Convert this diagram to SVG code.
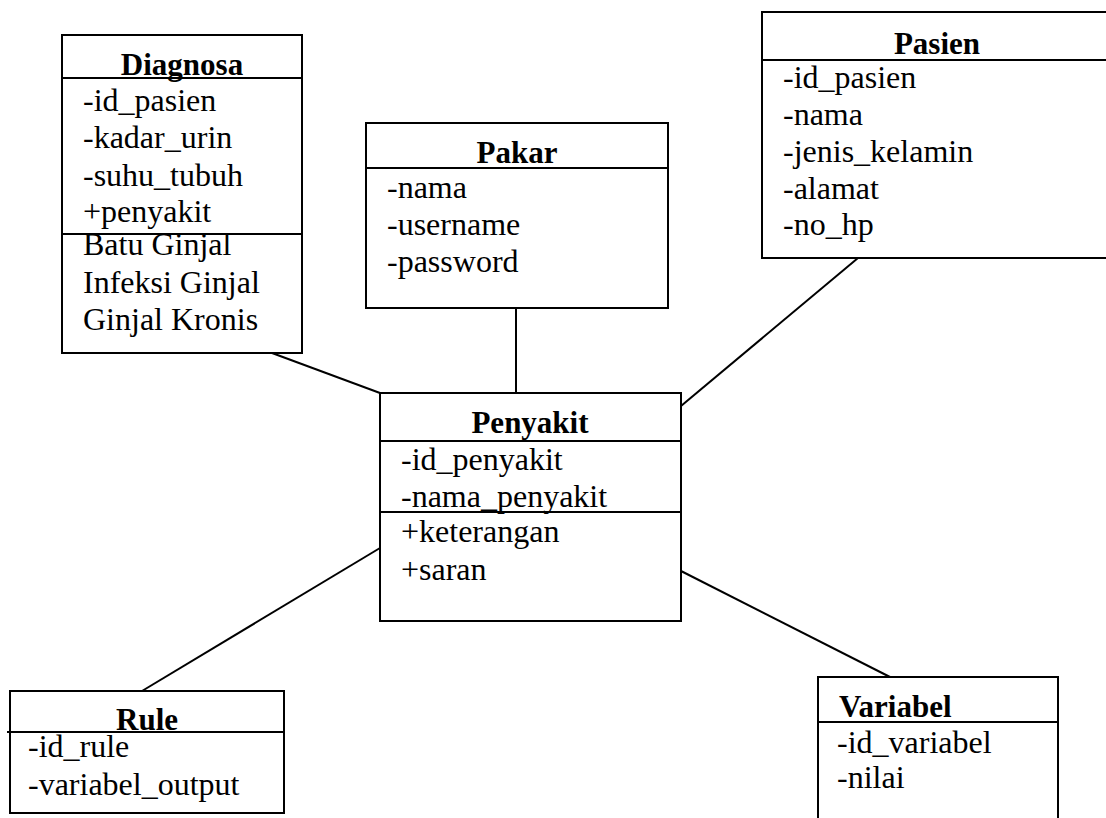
<svg xmlns="http://www.w3.org/2000/svg" width="1106" height="818" viewBox="0 0 1106 818">
  <style>
    .box { fill: #ffffff; stroke: #000000; stroke-width: 2; }
    .div { stroke: #000000; stroke-width: 2; fill: none; }
    .edge { stroke: #000000; stroke-width: 2; fill: none; }
    text { font-family: "Liberation Serif", "Times New Roman", serif; font-size: 32px; fill: #000000; }
    .title { font-weight: bold; font-size: 31px; }
    .mid { text-anchor: middle; }
  </style>
  <rect x="0" y="0" width="1106" height="818" fill="#ffffff"/>

  <!-- associations between classes -->
  <g id="connectors">
    <line class="edge" x1="272" y1="353" x2="380" y2="393"/>
    <line class="edge" x1="516" y1="308" x2="516" y2="393"/>
    <line class="edge" x1="858" y1="258" x2="681" y2="406"/>
    <line class="edge" x1="380" y1="548" x2="142" y2="691"/>
    <line class="edge" x1="681" y1="571" x2="890" y2="677"/>
  </g>

  <g id="diagnosa">
    <rect class="box" x="62" y="35" width="240" height="318"/>
    <line class="div" x1="62" y1="78" x2="302" y2="78"/>
    <line class="div" x1="62" y1="234" x2="302" y2="234"/>
    <text class="title mid" x="182" y="75">Diagnosa</text>
    <text x="83" y="111">-id_pasien</text>
    <text x="83" y="148">-kadar_urin</text>
    <text x="83" y="186">-suhu_tubuh</text>
    <text x="83" y="222">+penyakit</text>
    <text x="83" y="255">Batu Ginjal</text>
    <text x="83" y="293">Infeksi Ginjal</text>
    <text x="83" y="330">Ginjal Kronis</text>
  </g>

  <g id="pakar">
    <rect class="box" x="366" y="123" width="302" height="185"/>
    <line class="div" x1="366" y1="168" x2="668" y2="168"/>
    <text class="title mid" x="517" y="163">Pakar</text>
    <text x="387" y="198">-nama</text>
    <text x="387" y="235">-username</text>
    <text x="387" y="272">-password</text>
  </g>

  <g id="pasien">
    <rect class="box" x="762" y="12" width="350" height="246"/>
    <line class="div" x1="762" y1="60" x2="1112" y2="60"/>
    <text class="title mid" x="937" y="54">Pasien</text>
    <text x="783" y="88">-id_pasien</text>
    <text x="783" y="125">-nama</text>
    <text x="783" y="162">-jenis_kelamin</text>
    <text x="783" y="199">-alamat</text>
    <text x="783" y="235">-no_hp</text>
  </g>

  <g id="penyakit">
    <rect class="box" x="380" y="393" width="301" height="228"/>
    <line class="div" x1="380" y1="441" x2="681" y2="441"/>
    <line class="div" x1="380" y1="512" x2="681" y2="512"/>
    <text class="title mid" x="530" y="433">Penyakit</text>
    <text x="401" y="470">-id_penyakit</text>
    <text x="401" y="507">-nama_penyakit</text>
    <text x="401" y="542">+keterangan</text>
    <text x="401" y="580">+saran</text>
  </g>

  <g id="rule">
    <rect class="box" x="10" y="691" width="274" height="122"/>
    <line class="div" x1="7" y1="732" x2="284" y2="732"/>
    <text class="title mid" x="147" y="730">Rule</text>
    <text x="28" y="757">-id_rule</text>
    <text x="28" y="795">-variabel_output</text>
  </g>

  <g id="variabel">
    <rect class="box" x="818" y="677" width="240" height="160"/>
    <line class="div" x1="818" y1="722" x2="1058" y2="722"/>
    <text class="title" x="839" y="717">Variabel</text>
    <text x="837" y="753">-id_variabel</text>
    <text x="837" y="788">-nilai</text>
  </g>
</svg>
